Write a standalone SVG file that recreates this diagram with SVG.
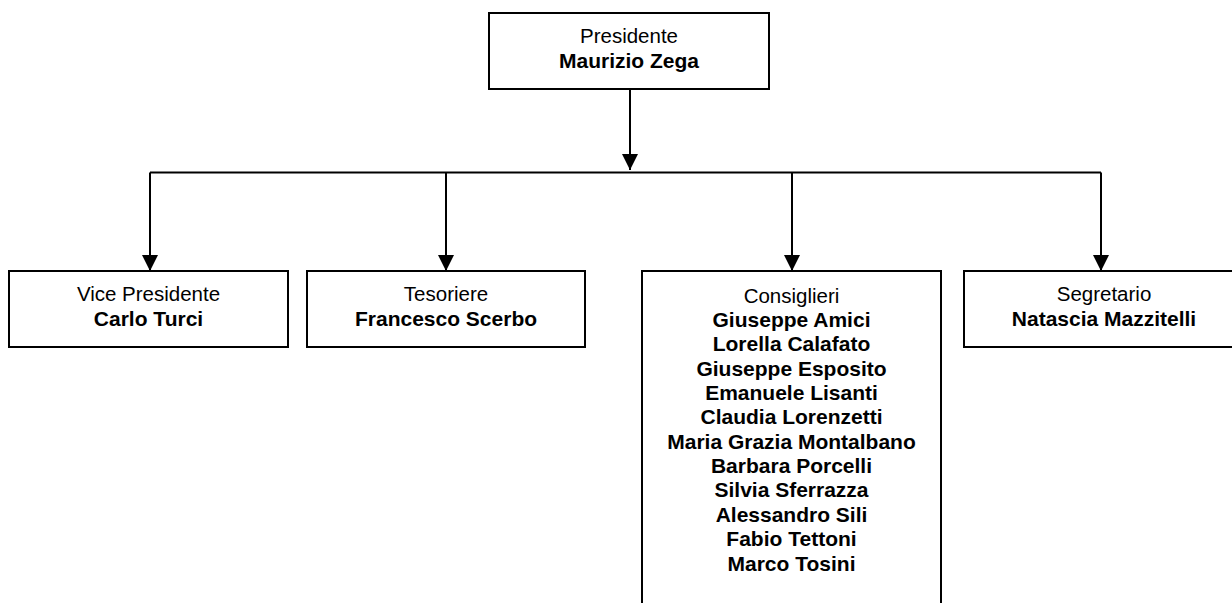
<svg xmlns="http://www.w3.org/2000/svg" width="1232" height="603" viewBox="0 0 1232 603">
<defs>
<marker id="arr" markerUnits="userSpaceOnUse" markerWidth="16" markerHeight="16" viewBox="0 0 16 16" refX="16" refY="8" orient="auto">
<path d="M0,0 L16,8 L0,16 Z" fill="#000"/>
</marker>
<style>
.box{fill:#fff;stroke:#000;stroke-width:2}
.ln{fill:none;stroke:#000;stroke-width:2}
text{font-family:"Liberation Sans",Arial,sans-serif;font-size:20.5px;fill:#000;text-anchor:middle}
.b{font-weight:bold;font-size:21px}
</style>
</defs>
<rect width="1232" height="603" fill="#fff"/>
<g id="connectors">
<path class="ln" d="M630,89 V170" marker-end="url(#arr)"/>
<path class="ln" d="M150,172.5 H1101"/>
<path class="ln" d="M150,172.5 V271" marker-end="url(#arr)"/>
<path class="ln" d="M446,172.5 V271" marker-end="url(#arr)"/>
<path class="ln" d="M792,172.5 V271" marker-end="url(#arr)"/>
<path class="ln" d="M1101,172.5 V271" marker-end="url(#arr)"/>
</g>
<g id="presidente">
<rect class="box" x="489" y="13" width="280" height="76"/>
<text x="629" y="43">Presidente</text>
<text class="b" x="629" y="67.5">Maurizio Zega</text>
</g>
<g id="vicepresidente">
<rect class="box" x="9" y="271" width="279" height="76"/>
<text x="148.5" y="301">Vice Presidente</text>
<text class="b" x="148.5" y="325.5">Carlo Turci</text>
</g>
<g id="tesoriere">
<rect class="box" x="307" y="271" width="278" height="76"/>
<text x="446" y="301">Tesoriere</text>
<text class="b" x="446" y="325.5">Francesco Scerbo</text>
</g>
<g id="consiglieri">
<rect class="box" x="642" y="271" width="299" height="360"/>
<text x="791.5" y="302.5">Consiglieri</text>
<text class="b" x="791.5" y="326.9">Giuseppe Amici</text>
<text class="b" x="791.5" y="351.2">Lorella Calafato</text>
<text class="b" x="791.5" y="375.6">Giuseppe Esposito</text>
<text class="b" x="791.5" y="399.9">Emanuele Lisanti</text>
<text class="b" x="791.5" y="424.3">Claudia Lorenzetti</text>
<text class="b" x="791.5" y="448.7">Maria Grazia Montalbano</text>
<text class="b" x="791.5" y="473">Barbara Porcelli</text>
<text class="b" x="791.5" y="497.4">Silvia Sferrazza</text>
<text class="b" x="791.5" y="521.7">Alessandro Sili</text>
<text class="b" x="791.5" y="546.1">Fabio Tettoni</text>
<text class="b" x="791.5" y="570.5">Marco Tosini</text>
</g>
<g id="segretario">
<rect class="box" x="964" y="271" width="280" height="76"/>
<text x="1104" y="301">Segretario</text>
<text class="b" x="1104" y="325.5">Natascia Mazzitelli</text>
</g>
</svg>
